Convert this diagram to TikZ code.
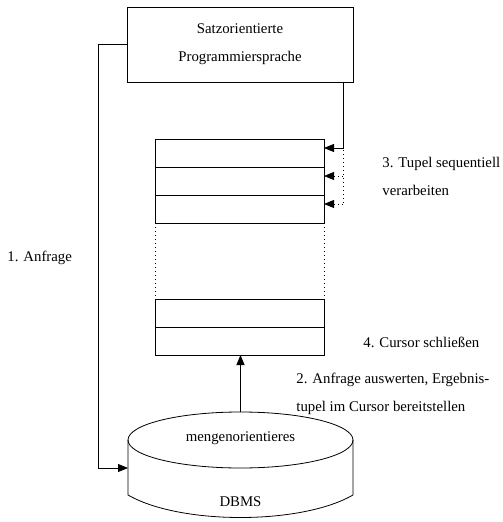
\documentclass[tikz,border=0pt]{standalone}
\usepackage{fontspec}
\setmainfont{Liberation Serif}
\usetikzlibrary{arrows.meta,positioning}
\tikzset{
  row/.style={draw,minimum width=169pt,minimum height=28pt,inner sep=0pt,outer sep=0pt},
  lbl/.style={anchor=base west,inner sep=0pt,align=left},
  arr/.style={-{Triangle[length=10pt,width=8pt]}},
  dots/.style={dash pattern=on 0.8pt off 3.2pt}
}
\begin{document}
\begin{tikzpicture}[x=1pt,y=-1pt,line width=0.8pt,font=\fontsize{14.8}{28}\selectfont]
\useasboundingbox (0,0) rectangle (503,522);
% programm
\node[draw,minimum width=226pt,minimum height=75pt,inner sep=0pt,align=center](prog) at (240,44.5){Satzorientierte\\Programmiersprache};
% cursor
\node[row](r1) at (239.5,153){};
\node[row,below=0pt of r1](r2){};
\node[row,below=0pt of r2](r3){};
\node[row](r4) at (239.5,313){};
\node[row,below=0pt of r4](r5){};
\draw[dots](r3.south west)--(r4.north west);
\draw[dots](r3.south east)--(r4.north east);
% datenbank
\draw(128,440)--(128,495) .. controls (180,525) and (301,525) .. (353,495)--(353,440);
\draw(240.5,440)ellipse(112.5 and 28);
\node(mengen) at (240.5,441)[anchor=base]{mengenorientieres};
\node(dbms) at (240.5,506)[anchor=base]{DBMS};
\coordinate(dbtop) at (240.5,412);
\coordinate(dbside) at (128,468);
% pfeile
\draw[arr](prog.west)--++(-28,0)|-(dbside);
\draw[arr]([xshift=-10pt]prog.south east)|-([yshift=5pt]r1.east);
\coordinate(seq) at (343,150);
\draw[dots](seq)--++(0,54);
\draw[dots,arr](seq|-r2.east)++(0,-5)--([yshift=5pt]r2.east);
\draw[dots,arr](seq|-r3.east)++(0,-5)--([yshift=5pt]r3.east);
\draw[arr](dbtop)--(dbtop|-r5.south);
% texte
\node[lbl](anfrage) at (7,261){1. Anfrage};
\node[lbl](tupel) at (382,195){3. Tupel sequentiell\\verarbeiten};
\node[lbl](schliessen) at (363,347){4. Cursor schließen};
\node[lbl](auswerten) at (296,411){2. Anfrage auswerten, Ergebnis-\\tupel im Cursor bereitstellen};
\end{tikzpicture}
\end{document}
